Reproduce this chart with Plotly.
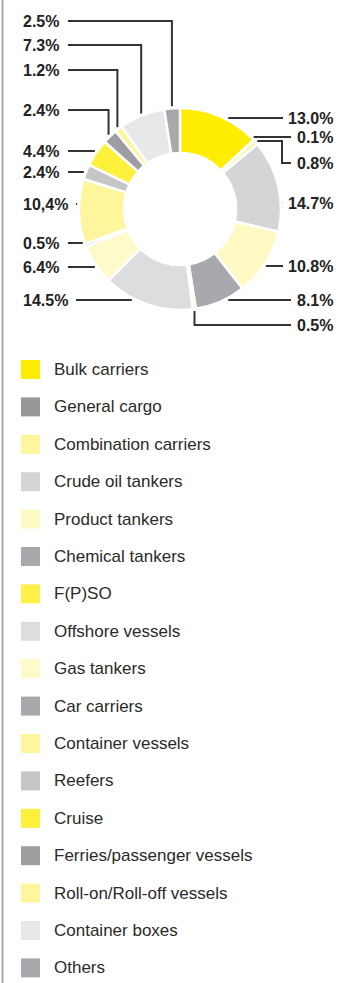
import math
import plotly.graph_objects as go

# ---------------- data ----------------
categories = [
    "Bulk carriers", "General cargo", "Combination carriers", "Crude oil tankers",
    "Product tankers", "Chemical tankers", "F(P)SO", "Offshore vessels",
    "Gas tankers", "Car carriers", "Container vessels", "Reefers", "Cruise",
    "Ferries/passenger vessels", "Roll-on/Roll-off vessels", "Container boxes", "Others",
]
values = [13.0, 0.1, 0.8, 14.7, 10.8, 8.1, 0.5, 14.5, 6.4, 0.5, 10.4, 2.4, 4.4, 2.4, 1.2, 7.3, 2.5]
value_labels = ["13.0%", "0.1%", "0.8%", "14.7%", "10.8%", "8.1%", "0.5%", "14.5%",
                "6.4%", "0.5%", "10,4%", "2.4%", "4.4%", "2.4%", "1.2%", "7.3%", "2.5%"]
colors = ["#FFED00", "#96979B", "#FFF59D", "#D4D5D7", "#FFF9C4", "#A8A9AD", "#FFF04A",
          "#DCDDDF", "#FFFACA", "#A8A9AD", "#FFF59D", "#C5C6C8", "#FFF03C", "#9D9EA2",
          "#FFF59D", "#E7E8E9", "#A8A9AD"]

# ---------------- layout / style ----------------
W, H = 341, 983
CX, CY, R_OUT = 180, 209, 101
HOLE = 0.555
R_LINE = 103
label_y = [118, 137, 163, 203, 266, 300, 325, 300, 267, 243, 204, 172, 151, 110, 70, 45, 21]
label_kind = ["h", "h", "elbow_h", "h", "h", "h", "elbow_v", "h", "h", "h", "h", "h", "h",
              "elbow_v", "elbow_v", "elbow_v", "elbow_v"]
ELBOW_X = 282
LEFT_TEXT_X = 21
RIGHT_TEXT_X = 335
LEG_X, LEG_Y0, LEG_STEP, LEG_SIZE, LEG_TEXT_X = 30.5, 369.5, 37.4, 19, 52
FONT = "Liberation Sans, Arial, sans-serif"
LINE_COLOR = "#333333"

fig = go.Figure()

fig.add_trace(go.Pie(
    labels=categories, values=values, sort=False, direction="clockwise", rotation=0,
    hole=HOLE, textinfo="none", showlegend=False, hoverinfo="label+percent",
    marker=dict(colors=colors, line=dict(color="white", width=2.5)),
    domain=dict(x=[(CX - R_OUT) / W, (CX + R_OUT) / W],
                y=[1 - (CY + R_OUT) / H, 1 - (CY - R_OUT) / H]),
))

# leader lines + value labels computed from data angles
total = sum(values)
lx, ly = [], []
annotations = []
cum = 0.0
for i, v in enumerate(values):
    mid = (cum + v / 2) / total * 2 * math.pi
    cum += v
    s, c = math.sin(mid), math.cos(mid)
    right = s > 0
    ax, ay = CX + R_LINE * s, CY - R_LINE * c
    yl = label_y[i]
    txt = value_labels[i]
    wide = len(txt) >= 5
    if right:
        end_x = RIGHT_TEXT_X - (44 if wide else 36) - 8
    else:
        start_x = LEFT_TEXT_X + (44 if wide else 36) + 11
    kind = label_kind[i]
    if kind == "h":
        dy = abs(yl - CY)
        dx = math.sqrt(max(R_LINE ** 2 - dy ** 2, 0))
        if right:
            xs, ys = [CX + dx, end_x], [yl, yl]
        else:
            xs, ys = [start_x, CX - dx], [yl, yl]
    elif kind == "elbow_h":
        xs, ys = [ax, ELBOW_X, ELBOW_X, end_x], [ay, ay, yl, yl]
    else:  # elbow_v
        if right:
            xs, ys = [ax, ax, end_x], [ay, yl, yl]
        else:
            xs, ys = [start_x, ax, ax], [yl, yl, ay]
    lx += xs + [None]
    ly += ys + [None]
    annotations.append(dict(
        x=RIGHT_TEXT_X if right else LEFT_TEXT_X, y=yl, xref="x", yref="y",
        text="<b>" + txt + "</b>", showarrow=False,
        xanchor="right" if right else "left", yanchor="middle",
        font=dict(family=FONT, size=16, color="#222222"),
    ))

fig.add_trace(go.Scatter(x=lx, y=ly, mode="lines", line=dict(color=LINE_COLOR, width=2),
                         hoverinfo="skip", showlegend=False))

# custom legend
leg_y = [LEG_Y0 + i * LEG_STEP for i in range(len(categories))]
fig.add_trace(go.Scatter(
    x=[LEG_X] * len(categories), y=leg_y, mode="markers",
    marker=dict(symbol="square", size=LEG_SIZE, color=colors, line=dict(width=0)),
    hovertext=categories, hoverinfo="text", showlegend=False,
))
for name, yy in zip(categories, leg_y):
    annotations.append(dict(
        x=LEG_TEXT_X, y=yy, xref="x", yref="y", text=name, showarrow=False,
        xanchor="left", yanchor="middle",
        font=dict(family=FONT, size=17, color="#2a2a2a"),
    ))

fig.update_layout(
    width=W, height=H, autosize=False,
    margin=dict(l=0, r=0, t=0, b=0),
    paper_bgcolor="white", plot_bgcolor="rgba(0,0,0,0)",
    xaxis=dict(range=[0, W], visible=False, fixedrange=True),
    yaxis=dict(range=[H, 0], visible=False, fixedrange=True),
    annotations=annotations,
    shapes=[dict(type="line", xref="x", yref="y", x0=2.5, x1=2.5, y0=0, y1=H,
                 line=dict(color="#A9A9A9", width=2))],
)

fig.write_html("out.html")
